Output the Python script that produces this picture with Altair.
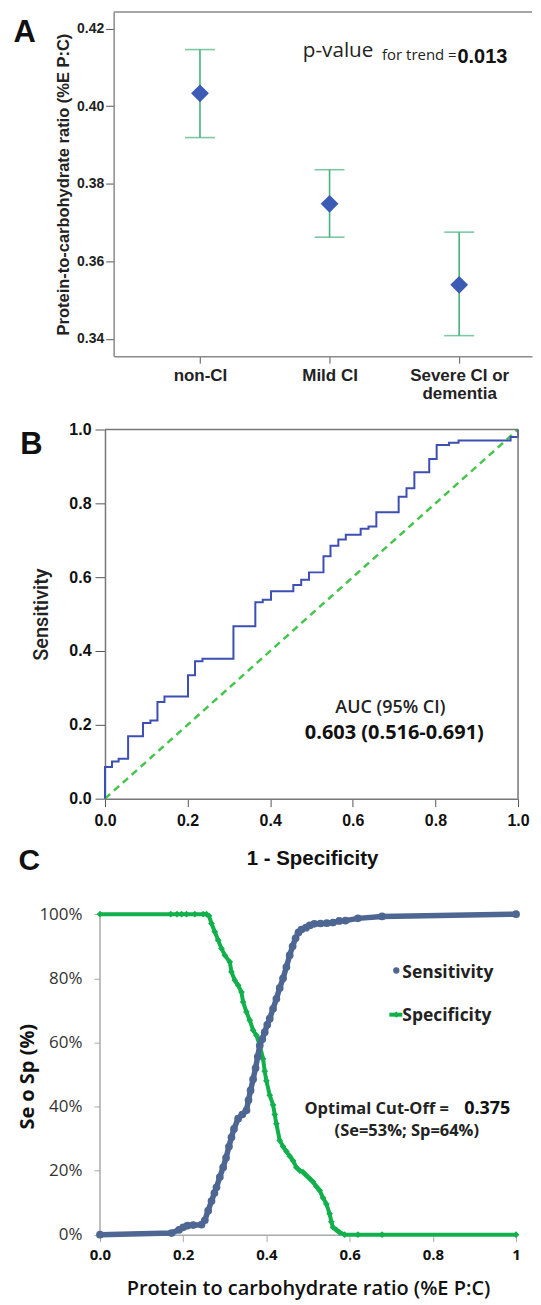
import altair as alt
import pandas as pd

# ---------------- Panel A data ----------------
groups = ["non-CI", "Mild CI", "Severe CI or dementia"]
group_index = [1, 2, 3]
mean_ratio = [0.4033, 0.3748, 0.3539]
ci_lower = [0.3919, 0.3662, 0.3408]
ci_upper = [0.4146, 0.3836, 0.3675]
a_ticks = [0.34, 0.36, 0.38, 0.40, 0.42]

# ---------------- Panel B data (ROC) ----------------
roc_fpr = [0.0, 0.0, 0.017, 0.033, 0.056, 0.092, 0.110, 0.127, 0.144, 0.201,
           0.218, 0.236, 0.311, 0.364, 0.382, 0.402, 0.456, 0.475, 0.494, 0.529,
           0.546, 0.565, 0.583, 0.619, 0.638, 0.657, 0.711, 0.730, 0.749, 0.785,
           0.803, 0.833, 0.856, 0.982, 1.0]
roc_tpr = [0.0, 0.086, 0.101, 0.108, 0.169, 0.205, 0.212, 0.262, 0.277, 0.334,
           0.372, 0.379, 0.467, 0.532, 0.539, 0.562, 0.579, 0.593, 0.613, 0.657,
           0.685, 0.702, 0.715, 0.731, 0.737, 0.776, 0.818, 0.841, 0.884, 0.920,
           0.958, 0.964, 0.970, 0.980, 1.0]
diag_x = [0.0, 1.0]
diag_y = [0.0, 1.0]
unit_ticks = [0.0, 0.2, 0.4, 0.6, 0.8, 1.0]

# ---------------- Panel C data ----------------
sens_x = [0.000, 0.172, 0.190, 0.200, 0.210, 0.224, 0.244, 0.252, 0.260, 0.268,
          0.275, 0.280, 0.288, 0.296, 0.303, 0.310, 0.316, 0.322, 0.332, 0.342,
          0.352, 0.357, 0.362, 0.368, 0.374, 0.379, 0.384, 0.390, 0.396, 0.402,
          0.408, 0.416, 0.424, 0.432, 0.440, 0.448, 0.456, 0.463, 0.470, 0.477,
          0.484, 0.495, 0.504, 0.515, 0.530, 0.545, 0.560, 0.575, 0.590, 0.620,
          0.678, 1.000]
sens_y = [0.000, 0.005, 0.015, 0.023, 0.028, 0.030, 0.031, 0.045, 0.075, 0.105,
          0.130, 0.148, 0.180, 0.210, 0.240, 0.275, 0.304, 0.330, 0.362, 0.375,
          0.388, 0.420, 0.450, 0.485, 0.520, 0.555, 0.590, 0.610, 0.632, 0.655,
          0.674, 0.705, 0.736, 0.770, 0.800, 0.835, 0.872, 0.900, 0.925, 0.943,
          0.952, 0.958, 0.965, 0.970, 0.971, 0.972, 0.974, 0.979, 0.980, 0.987,
          0.993, 1.000]
spec_x = [0.000, 0.170, 0.185, 0.196, 0.208, 0.228, 0.248, 0.256, 0.262, 0.268,
          0.276, 0.284, 0.292, 0.300, 0.312, 0.316, 0.324, 0.332, 0.340, 0.344,
          0.352, 0.360, 0.368, 0.376, 0.384, 0.392, 0.396, 0.400, 0.408, 0.416,
          0.420, 0.424, 0.432, 0.440, 0.448, 0.456, 0.464, 0.472, 0.480, 0.488,
          0.496, 0.504, 0.512, 0.520, 0.528, 0.536, 0.544, 0.552, 0.556, 0.560,
          0.568, 0.576, 0.588, 0.620, 0.678, 1.000]
spec_y = [1.000, 1.000, 1.000, 1.000, 1.000, 1.000, 1.000, 1.000, 0.995, 0.971,
          0.945, 0.919, 0.893, 0.872, 0.851, 0.820, 0.794, 0.778, 0.757, 0.726,
          0.695, 0.669, 0.638, 0.622, 0.591, 0.549, 0.510, 0.480, 0.435, 0.405,
          0.375, 0.346, 0.294, 0.275, 0.260, 0.245, 0.231, 0.210, 0.200, 0.195,
          0.185, 0.175, 0.165, 0.150, 0.138, 0.115, 0.096, 0.065, 0.040, 0.023,
          0.015, 0.007, 0.000, 0.000, 0.000, 0.000]

# ---------------- styling ----------------
ARIAL = "Liberation Sans"
OPEN = "Open Sans"
A_GREEN = "#46b27c"
A_BLUE = "#3b5bb5"
B_BLUE = "#3d4fb3"
B_GREEN = "#45c54d"
C_BLUE = "#4e6692"
C_GREEN = "#12b04c"
FRAME = "#8a8a8a"

one = pd.DataFrame({"k": [0]})

# ================= Panel A =================
A_W, A_H = 433, 345
A_AXIS = 13.7
df_a = pd.DataFrame({"group": groups, "idx": group_index, "mean": mean_ratio,
                     "lo": ci_lower, "hi": ci_upper})

lines = []
for g in groups:
    if len(g) > 14:
        head, tail = g.rsplit(" ", 1)
        lines.append([head, tail])
    else:
        lines.append([g])
label_expr = "[" + ",".join("[" + ",".join("'" + s + "'" for s in l) + "]" for l in lines) + "][datum.value - 1]"

xA_scale = alt.Scale(domain=[0.334, 3.562], range=[A_AXIS, A_W], nice=False, zero=False)
xA_axis = alt.Axis(values=group_index, labelExpr=label_expr, grid=False,
                   domainColor=FRAME, domainWidth=1.5, tickColor="#555", tickSize=7,
                   labelFont=ARIAL, labelFontSize=17, labelFontWeight="bold",
                   labelColor="#222", labelPadding=4, labelLineHeight=18,
                   labelFlush=False, title=None)
yA_scale = alt.Scale(domain=[0.3355, 0.4243], nice=False, zero=False)
yA_title = "Protein-to-carbohydrate ratio (%E P:C)"
yA_axis = alt.Axis(values=a_ticks, format=".2f", grid=False, offset=-A_AXIS,
                   domainColor=FRAME, domainWidth=1.5, tickColor="#555", tickSize=8,
                   labelFont=ARIAL, labelFontSize=14, labelFontWeight="bold",
                   labelColor="#222", labelPadding=2,
                   titleFont=ARIAL, titleFontSize=16.5, titleFontWeight="bold",
                   titleColor="#222", titleAngle=270, titleBaseline="middle",
                   titleAlign="center", titleX=63 - 113.7, titleY=172.5)

def xA():
    return alt.X("idx:Q", scale=xA_scale, axis=xA_axis, title=None)

def yA(field):
    return alt.Y(field, scale=yA_scale, axis=yA_axis, title=yA_title)

a_rule = alt.Chart(df_a).mark_rule(color=A_GREEN, strokeWidth=1.6).encode(
    x=xA(), y=yA("lo:Q"), y2="hi:Q")
a_lo = alt.Chart(df_a).mark_tick(orient="horizontal", size=30, thickness=1.6,
                                 color=A_GREEN).encode(x=xA(), y=yA("lo:Q"))
a_hi = alt.Chart(df_a).mark_tick(orient="horizontal", size=30, thickness=1.6,
                                 color=A_GREEN).encode(x=xA(), y=yA("hi:Q"))
a_pts = alt.Chart(df_a).mark_point(shape="diamond", filled=True, size=320,
                                   color=A_BLUE, opacity=1).encode(x=xA(), y=yA("mean:Q"))
a_top = alt.Chart(one).mark_rule(color=FRAME, strokeWidth=1.5).encode(
    x=alt.value(A_AXIS), x2=alt.value(A_W), y=alt.value(0))
a_letter = alt.Chart(one).mark_text(text="A", font=ARIAL, fontSize=31, fontWeight="bold",
                                    align="left", baseline="alphabetic", color="#111").encode(
    x=alt.value(13.2 - 100), y=alt.value(30))
a_p1 = alt.Chart(one).mark_text(text="p-value", font=OPEN, fontSize=20.7, align="left",
                                baseline="alphabetic", color="#222").encode(
    x=alt.value(203.3), y=alt.value(45))
a_p2 = alt.Chart(one).mark_text(text="for trend =", font=OPEN, fontSize=15, align="left",
                                baseline="alphabetic", color="#222").encode(
    x=alt.value(282.7), y=alt.value(48.3))
a_p3 = alt.Chart(one).mark_text(text="0.013", font=ARIAL, fontSize=20, fontWeight="bold",
                                align="left", baseline="alphabetic", color="#111").encode(
    x=alt.value(358.3), y=alt.value(51))

panel_a = alt.layer(a_rule, a_lo, a_hi, a_pts, a_top, a_letter, a_p1, a_p2, a_p3).properties(
    width=A_W, height=A_H)

# ================= Panel B =================
B_W, B_H = 419, 370
B_AXIS = 5
df_roc = pd.DataFrame({"fpr": roc_fpr, "tpr": roc_tpr})
df_diag = pd.DataFrame({"fpr": diag_x, "tpr": diag_y})

xB_scale = alt.Scale(domain=[0, 1], range=[B_AXIS, B_W], nice=False)
yB_scale = alt.Scale(domain=[0, 1], nice=False)
xB_axis = alt.Axis(values=unit_ticks, format=".1f", grid=False, labelFlush=False,
                   domainColor="#777", domainWidth=1.5, tickColor="#555", tickSize=8,
                   labelFont=ARIAL, labelFontSize=16, labelFontWeight="bold",
                   labelColor="#111", labelPadding=6,
                   titleFont=ARIAL, titleFontSize=20.5, titleFontWeight="bold",
                   titleColor="#111", titleBaseline="alphabetic", titleAlign="center",
                   titleX=212.5, titleY=65.5)
yB_axis = alt.Axis(values=unit_ticks, format=".1f", grid=False, offset=-B_AXIS,
                   domainColor="#777", domainWidth=1.5, tickColor="#555", tickSize=10,
                   labelFont=ARIAL, labelFontSize=16, labelFontWeight="bold",
                   labelColor="#111", labelPadding=4,
                   titleFont="Roboto", titleFontSize=20, titleFontWeight=500,
                   titleColor="#222", titleAngle=270, titleBaseline="middle",
                   titleAlign="center", titleX=41 - 105, titleY=185)

def xB():
    return alt.X("fpr:Q", scale=xB_scale, axis=xB_axis, title="1 - Specificity")

def yB():
    return alt.Y("tpr:Q", scale=yB_scale, axis=yB_axis, title="Sensitivity")

b_diag = alt.Chart(df_diag).mark_line(color=B_GREEN, strokeWidth=2.5, strokeDash=[7, 5]).encode(
    x=xB(), y=yB())
b_roc = alt.Chart(df_roc).mark_line(color=B_BLUE, strokeWidth=2, interpolate="step-after").encode(
    x=xB(), y=yB())
b_top = alt.Chart(one).mark_rule(color="#777", strokeWidth=1.5).encode(
    x=alt.datum(0), x2=alt.datum(1), y=alt.datum(1))
b_right = alt.Chart(one).mark_rule(color="#777", strokeWidth=1.5).encode(
    x=alt.datum(1), y=alt.datum(0), y2=alt.datum(1))
b_letter = alt.Chart(one).mark_text(text="B", font=ARIAL, fontSize=31, fontWeight="bold",
                                    align="left", baseline="alphabetic", color="#111").encode(
    x=alt.value(20.1 - 100), y=alt.value(24.5))
b_auc1 = alt.Chart(one).mark_text(text="AUC (95% CI)", font=OPEN, fontSize=18, fontWeight=600,
                                  align="center", baseline="alphabetic", color="#222").encode(
    x=alt.value(291), y=alt.value(284.5))
b_auc2 = alt.Chart(one).mark_text(text="0.603 (0.516-0.691)", font=OPEN, fontSize=20,
                                  fontWeight="bold", align="center", baseline="alphabetic",
                                  color="#111").encode(x=alt.value(295), y=alt.value(310.5))

panel_b = alt.layer(b_diag, b_roc, b_top, b_right, b_letter, b_auc1, b_auc2).properties(
    width=B_W, height=B_H)

# ================= Panel C =================
C_W, C_H = 417, 363.5
C_YMAX = 1.1317
df_sens = pd.DataFrame({"cut": sens_x, "val": sens_y})
df_spec = pd.DataFrame({"cut": spec_x, "val": spec_y})

xC_scale = alt.Scale(domain=[0, 1], nice=False)
yC_scale = alt.Scale(domain=[0, C_YMAX], nice=False)
xC_axis = alt.Axis(values=unit_ticks, grid=False, labelFlush=False,
                   labelExpr="datum.value == 1 ? '1' : format(datum.value, '.1f')",
                   domainColor="#aaa", domainWidth=1.5, tickColor="#aaa", tickSize=7,
                   labelFont=OPEN, labelFontSize=15, labelFontWeight="bold",
                   labelColor="#111", labelPadding=6,
                   titleFont=OPEN, titleFontSize=20, titleFontWeight=600,
                   titleColor="#111", titleBaseline="alphabetic", titleAlign="center",
                   titleX=208.5, titleY=60)
yC_axis = alt.Axis(values=unit_ticks, format=".0%", grid=False, domain=False,
                   tickColor="#aaa", tickSize=6,
                   labelFont=OPEN, labelFontSize=17, labelColor="#333", labelPadding=12,
                   titleFont=OPEN, titleFontSize=20, titleFontWeight="bold",
                   titleColor="#111", titleAngle=270, titleBaseline="middle",
                   titleAlign="center", titleX=27 - 100, titleY=204.7)

def xC():
    return alt.X("cut:Q", scale=xC_scale, axis=xC_axis,
                 title="Protein to carbohydrate ratio (%E P:C)")

def yC():
    return alt.Y("val:Q", scale=yC_scale, axis=yC_axis, title="Se o Sp (%)")

c_yaxis = alt.Chart(one).mark_rule(color="#aaa", strokeWidth=1.5).encode(
    x=alt.value(0), y=alt.datum(0), y2=alt.datum(1))
c_sens = alt.Chart(df_sens).mark_line(color=C_BLUE, strokeWidth=5.5,
                                      point=alt.OverlayMarkDef(shape="circle", filled=True,
                                                               size=60, color=C_BLUE)).encode(
    x=xC(), y=yC())
c_spec = alt.Chart(df_spec).mark_line(color=C_GREEN, strokeWidth=4,
                                      point=alt.OverlayMarkDef(shape="diamond", filled=True,
                                                               size=45, color=C_GREEN)).encode(
    x=xC(), y=yC())

c_letter = alt.Chart(one).mark_text(text="C", font=ARIAL, fontSize=30, fontWeight="bold",
                                    align="left", baseline="alphabetic", color="#111").encode(
    x=alt.value(18.4 - 100), y=alt.value(-2))
c_leg_pt1 = alt.Chart(one).mark_point(shape="circle", filled=True, size=40, color=C_BLUE,
                                      opacity=1).encode(x=alt.value(297), y=alt.value(98.7))
c_leg_txt1 = alt.Chart(one).mark_text(text="Sensitivity", font=OPEN, fontSize=17.5,
                                      fontWeight="bold", align="left", baseline="alphabetic",
                                      color="#222").encode(x=alt.value(303), y=alt.value(106.3))
c_leg_line2 = alt.Chart(one).mark_rule(color=C_GREEN, strokeWidth=4).encode(
    x=alt.value(290), x2=alt.value(303), y=alt.value(143))
c_leg_pt2 = alt.Chart(one).mark_point(shape="diamond", filled=True, size=40, color=C_GREEN,
                                      opacity=1).encode(x=alt.value(297), y=alt.value(143))
c_leg_txt2 = alt.Chart(one).mark_text(text="Specificity", font=OPEN, fontSize=17.5,
                                      fontWeight="bold", align="left", baseline="alphabetic",
                                      color="#222").encode(x=alt.value(303), y=alt.value(149.7))
c_cut1 = alt.Chart(one).mark_text(text="Optimal Cut-Off =", font=OPEN, fontSize=16.5,
                                  fontWeight="bold", align="left", baseline="alphabetic",
                                  color="#222").encode(x=alt.value(205), y=alt.value(243))
c_cut2 = alt.Chart(one).mark_text(text="0.375", font=OPEN, fontSize=18, fontWeight="bold",
                                  align="left", baseline="alphabetic", color="#111").encode(
    x=alt.value(365), y=alt.value(243))
c_cut3 = alt.Chart(one).mark_text(text="(Se=53%; Sp=64%)", font=OPEN, fontSize=16.5,
                                  fontWeight="bold", align="center", baseline="alphabetic",
                                  color="#222").encode(x=alt.value(307.5), y=alt.value(265))

panel_c = alt.layer(c_yaxis, c_spec, c_sens, c_letter, c_leg_pt1, c_leg_txt1,
                    c_leg_line2, c_leg_pt2, c_leg_txt2, c_cut1, c_cut2, c_cut3).properties(
    width=C_W, height=C_H)

chart = alt.vconcat(panel_a, panel_b, panel_c, spacing=73.5, bounds="flush").properties(
    padding={"left": 5.2, "top": 1.5, "right": 0, "bottom": 0}
).configure_view(stroke=None)

chart.save("out.html", embed_options={"renderer": "svg", "actions": False})
